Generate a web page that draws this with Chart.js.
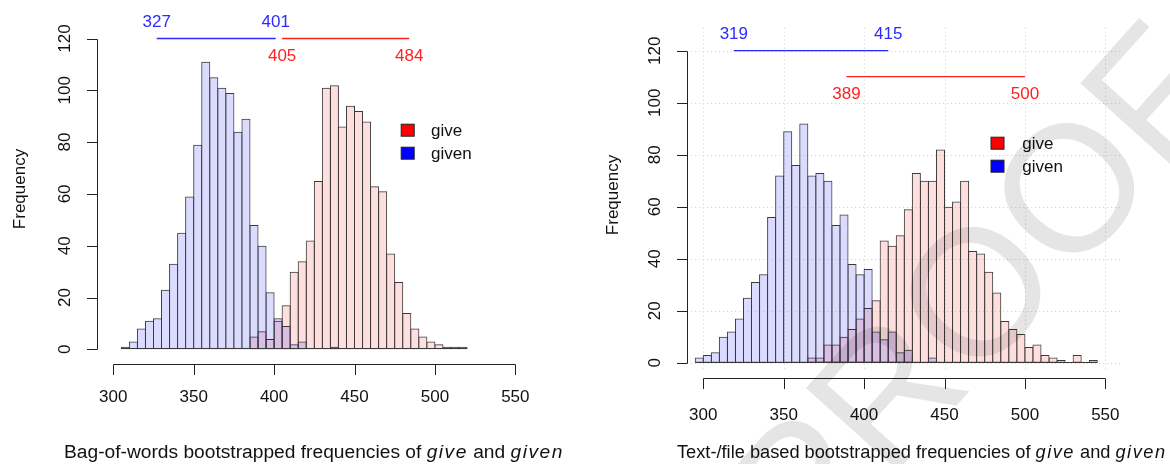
<!DOCTYPE html>
<html>
<head>
<meta charset="utf-8">
<script src="https://cdn.jsdelivr.net/npm/chart.js@4.4.1/dist/chart.umd.min.js"></script>
<style>
body { margin: 0; background: #fff; width: 1170px; height: 464px; overflow: hidden; position: relative; }
canvas { position: absolute; top: 0; }
</style>
</head>
<body>
<canvas id="left" width="585" height="464" style="left:0"></canvas>
<canvas id="right" width="585" height="464" style="left:585px"></canvas>
<script>
// histogram bins are 5 wide, the start value is the left edge of the first bin
var binWidth = 5;

var leftGivenStart = 305;
var leftGivenCounts = [1, 3, 8, 11, 12, 23, 33, 45, 59, 79, 111, 105, 101, 99, 84, 89, 48, 40, 22, 12, 9, 2, 3, 0, 0, 0, 1];
var leftGiveStart = 385;
var leftGiveCounts = [5, 7, 4, 11, 17, 30, 34, 42, 65, 101, 102, 86, 94, 92, 88, 63, 61, 37, 26, 14, 8, 5, 3, 2, 1, 1, 1];

var rightGivenStart = 295;
var rightGivenCounts = [2, 3, 4, 10, 12, 17, 25, 31, 34, 56, 72, 89, 76, 92, 72, 73, 70, 53, 57, 38, 34, 36, 12, 9, 12, 4, 5, 0, 0, 2];
var rightGiveStart = 365;
var rightGiveCounts = [2, 2, 7, 7, 10, 13, 17, 21, 24, 47, 45, 49, 59, 73, 70, 70, 82, 60, 62, 70, 43, 42, 35, 27, 16, 13, 11, 6, 7, 3, 2, 1, 0, 3, 0, 1];

// interval segments drawn above the histograms: [from, to] and the height they sit at
var leftGivenCI = [327, 401];
var leftGiveCI = [405, 484];
var leftCIHeights = [120, 120];
var rightGivenCI = [319, 415];
var rightGiveCI = [389, 500];
var rightCIHeights = [120, 110];

var xTicks = [300, 350, 400, 450, 500, 550];
var yTicks = [0, 20, 40, 60, 80, 100, 120];
var legendLabels = ["give", "given"];

var leftTitle = [["Bag-of-words bootstrapped frequencies of ", false], ["give", true], [" and ", false], ["given", true]];
var rightTitle = [["Text-/file based bootstrapped frequencies of ", false], ["give", true], [" and ", false], ["given", true]];

var FONT = '"Liberation Sans", Arial, Helvetica, sans-serif';
var BLUE_FILL = "rgba(0,0,255,0.14)";
var RED_FILL = "rgba(255,0,0,0.13)";
var EDGE = "#3a3a3a";

function toPoints(start, counts) {
    return counts.map(function (c, i) {
        return { x: start + binWidth * i + binWidth / 2, y: c };
    });
}

function font(size, italic) {
    return (italic ? "italic " : "") + size + "px " + FONT;
}

function rotText(ctx, s, x, y, size) {
    ctx.save();
    ctx.translate(x + size * 0.36, y);
    ctx.rotate(-Math.PI / 2);
    ctx.textAlign = "center";
    ctx.textBaseline = "alphabetic";
    ctx.fillText(s, 0, 0);
    ctx.restore();
}

function drawTitle(ctx, parts, left, right, baseline) {
    var size = 17;
    var measure = function (sz) {
        var w = 0;
        parts.forEach(function (p) {
            ctx.font = font(sz, p[1]);
            ctx.letterSpacing = p[1] ? "1.5px" : "0px";
            w += ctx.measureText(p[0]).width;
        });
        return w;
    };
    size = size * (right - left) / measure(size);
    var x = left;
    ctx.textAlign = "left";
    ctx.textBaseline = "alphabetic";
    parts.forEach(function (p) {
        ctx.font = font(size, p[1]);
        ctx.letterSpacing = p[1] ? "1.5px" : "0px";
        ctx.fillText(p[0], x, baseline);
        x += ctx.measureText(p[0]).width;
    });
    ctx.letterSpacing = "0px";
}

// draws the R-like decorations: separated axes, labels, interval segments, legend
function rPlot(cfg) {
    return {
        id: "rplot",
        beforeDatasetsDraw: function (chart) {
            if (!cfg.grid) return;
            var ctx = chart.ctx, a = chart.chartArea;
            var xs = chart.scales.x, ys = chart.scales.y;
            ctx.save();
            ctx.strokeStyle = "#cfcfcf";
            ctx.lineWidth = 1;
            ctx.setLineDash([1, 3]);
            xTicks.forEach(function (t) {
                var px = Math.round(xs.getPixelForValue(t)) + 0.5;
                ctx.beginPath(); ctx.moveTo(px, a.top + 3); ctx.lineTo(px, a.bottom - 7); ctx.stroke();
            });
            yTicks.forEach(function (t) {
                var py = Math.round(ys.getPixelForValue(t)) + 0.5;
                ctx.beginPath(); ctx.moveTo(a.left + 4, py); ctx.lineTo(a.right, py); ctx.stroke();
            });
            ctx.restore();
        },
        afterDatasetsDraw: function (chart) {
            var ctx = chart.ctx, a = chart.chartArea;
            var xs = chart.scales.x, ys = chart.scales.y;
            var px = function (v) { return xs.getPixelForValue(v); };
            var py = function (v) { return ys.getPixelForValue(v); };
            ctx.save();

            // baseline of the histograms
            var lo = Math.min(cfg.givenStart, cfg.giveStart);
            var hi = Math.max(cfg.givenStart + cfg.givenCounts.length * binWidth, cfg.giveStart + cfg.giveCounts.length * binWidth);
            ctx.strokeStyle = EDGE;
            ctx.lineWidth = 1;
            ctx.beginPath();
            ctx.moveTo(px(lo), Math.round(py(0)) - 0.5);
            ctx.lineTo(px(hi), Math.round(py(0)) - 0.5);
            ctx.stroke();

            // axes
            ctx.strokeStyle = "#222";
            var xa = Math.round(a.bottom) + 0.5;
            ctx.beginPath();
            ctx.moveTo(Math.round(px(xTicks[0])) + 0.5, xa);
            ctx.lineTo(Math.round(px(xTicks[xTicks.length - 1])) + 0.5, xa);
            xTicks.forEach(function (t) {
                var x = Math.round(px(t)) + 0.5;
                ctx.moveTo(x, xa); ctx.lineTo(x, xa + 10.5);
            });
            var ya = Math.round(a.left) + 0.5;
            ctx.moveTo(ya, Math.round(py(yTicks[0])) + 0.5);
            ctx.lineTo(ya, Math.round(py(yTicks[yTicks.length - 1])) + 0.5);
            yTicks.forEach(function (t) {
                var y = Math.round(py(t)) + 0.5;
                ctx.moveTo(ya, y); ctx.lineTo(ya - 10.5, y);
            });
            ctx.stroke();

            ctx.fillStyle = "#111";
            ctx.font = font(17);
            ctx.textAlign = "center";
            ctx.textBaseline = "alphabetic";
            xTicks.forEach(function (t) {
                ctx.fillText(String(t), px(t), cfg.xLabelY + 6);
            });
            yTicks.forEach(function (t) {
                rotText(ctx, String(t), a.left - 33, py(t), 17);
            });
            rotText(ctx, "Frequency", cfg.yTitle[0], cfg.yTitle[1], 17);
            drawTitle(ctx, cfg.title, cfg.titleX[0], cfg.titleX[1], 458);

            // interval segments and their end labels
            var segs = [[cfg.givenCI, cfg.ciHeights[0], "#2b2bff", -1], [cfg.giveCI, cfg.ciHeights[1], "#ff2222", 1]];
            segs.forEach(function (s, i) {
                var y = py(s[1]);
                ctx.strokeStyle = s[2];
                ctx.lineWidth = 1.3;
                ctx.beginPath();
                ctx.moveTo(px(s[0][0]), y);
                ctx.lineTo(px(s[0][1]), y);
                ctx.stroke();
                ctx.fillStyle = s[2];
                ctx.font = font(17);
                ctx.textAlign = "center";
                var ty = s[3] < 0 ? y - 18 + 6 : y + 16 + 6;
                ctx.fillText(String(s[0][0]), px(s[0][0]), ty);
                ctx.fillText(String(s[0][1]), px(s[0][1]), ty);
            });

            // legend
            var cols = ["#ff0000", "#0000ff"];
            legendLabels.forEach(function (lab, i) {
                var lx = cfg.legend[0], ly = cfg.legend[1] + i * 23;
                ctx.fillStyle = cols[i];
                ctx.fillRect(lx - 6.5, ly - 6, 13, 12);
                ctx.strokeStyle = "#222";
                ctx.lineWidth = 1;
                ctx.strokeRect(lx - 6.5, ly - 6, 13, 12);
                ctx.fillStyle = "#111";
                ctx.font = font(17);
                ctx.textAlign = "left";
                ctx.fillText(lab, cfg.legend[2], ly + 6);
            });
            ctx.restore();
        },
        afterDraw: function (chart) {
            if (!cfg.watermark) return;
            var ctx = chart.ctx;
            ctx.save();
            ctx.translate(cfg.watermark[0], cfg.watermark[1]);
            ctx.rotate(cfg.watermark[2] * Math.PI / 180);
            ctx.fillStyle = "rgba(0,0,0,0.1)";
            ctx.font = cfg.watermark[3] + "px " + FONT;
            ctx.textAlign = "center";
            ctx.textBaseline = "middle";
            ctx.fillText("PROOF", 0, 0);
            ctx.restore();
        }
    };
}

function makePanel(id, cfg) {
    var el = document.getElementById(id);
    var barPct = 1 + 1 / (binWidth * cfg.pxPerUnit);
    var common = { borderColor: EDGE, borderWidth: 1, borderSkipped: false, grouped: false, barPercentage: barPct, categoryPercentage: 1 };
    return new Chart(el.getContext("2d"), {
        type: "bar",
        data: {
            datasets: [
                Object.assign({ label: "given", data: toPoints(cfg.givenStart, cfg.givenCounts), backgroundColor: BLUE_FILL }, common),
                Object.assign({ label: "give", data: toPoints(cfg.giveStart, cfg.giveCounts), backgroundColor: RED_FILL }, common)
            ]
        },
        options: {
            responsive: false,
            animation: false,
            devicePixelRatio: 1,
            layout: { padding: cfg.padding },
            scales: {
                x: { type: "linear", min: 290, max: 560, offset: false, display: false },
                y: { type: "linear", min: -5.7, max: 130, display: false }
            },
            plugins: { legend: { display: false }, tooltip: { enabled: false } }
        },
        plugins: [rPlot(cfg)]
    });
}

makePanel("left", {
    givenStart: leftGivenStart, givenCounts: leftGivenCounts,
    giveStart: leftGiveStart, giveCounts: leftGiveCounts,
    givenCI: leftGivenCI, giveCI: leftGiveCI, ciHeights: leftCIHeights,
    pxPerUnit: 1.608,
    padding: { left: 97.2, right: 53.6, top: 12.6, bottom: 99.9 },
    xLabelY: 396,
    yTitle: [19, 189],
    title: leftTitle, titleX: [64, 566],
    legend: [407.7, 130.2, 431],
    grid: false
});

makePanel("right", {
    givenStart: rightGivenStart, givenCounts: rightGivenCounts,
    giveStart: rightGiveStart, giveCounts: rightGiveCounts,
    givenCI: rightGivenCI, giveCI: rightGiveCI, ciHeights: rightCIHeights,
    pxPerUnit: 1.608,
    padding: { left: 102.2, right: 48.6, top: 24.7, bottom: 86.5 },
    xLabelY: 414,
    yTitle: [26.7, 195],
    title: rightTitle, titleX: [92, 583],
    legend: [412.5, 143.2, 437.3],
    grid: true,
    watermark: [400, 300, -48, 180]
});
</script>
</body>
</html>
